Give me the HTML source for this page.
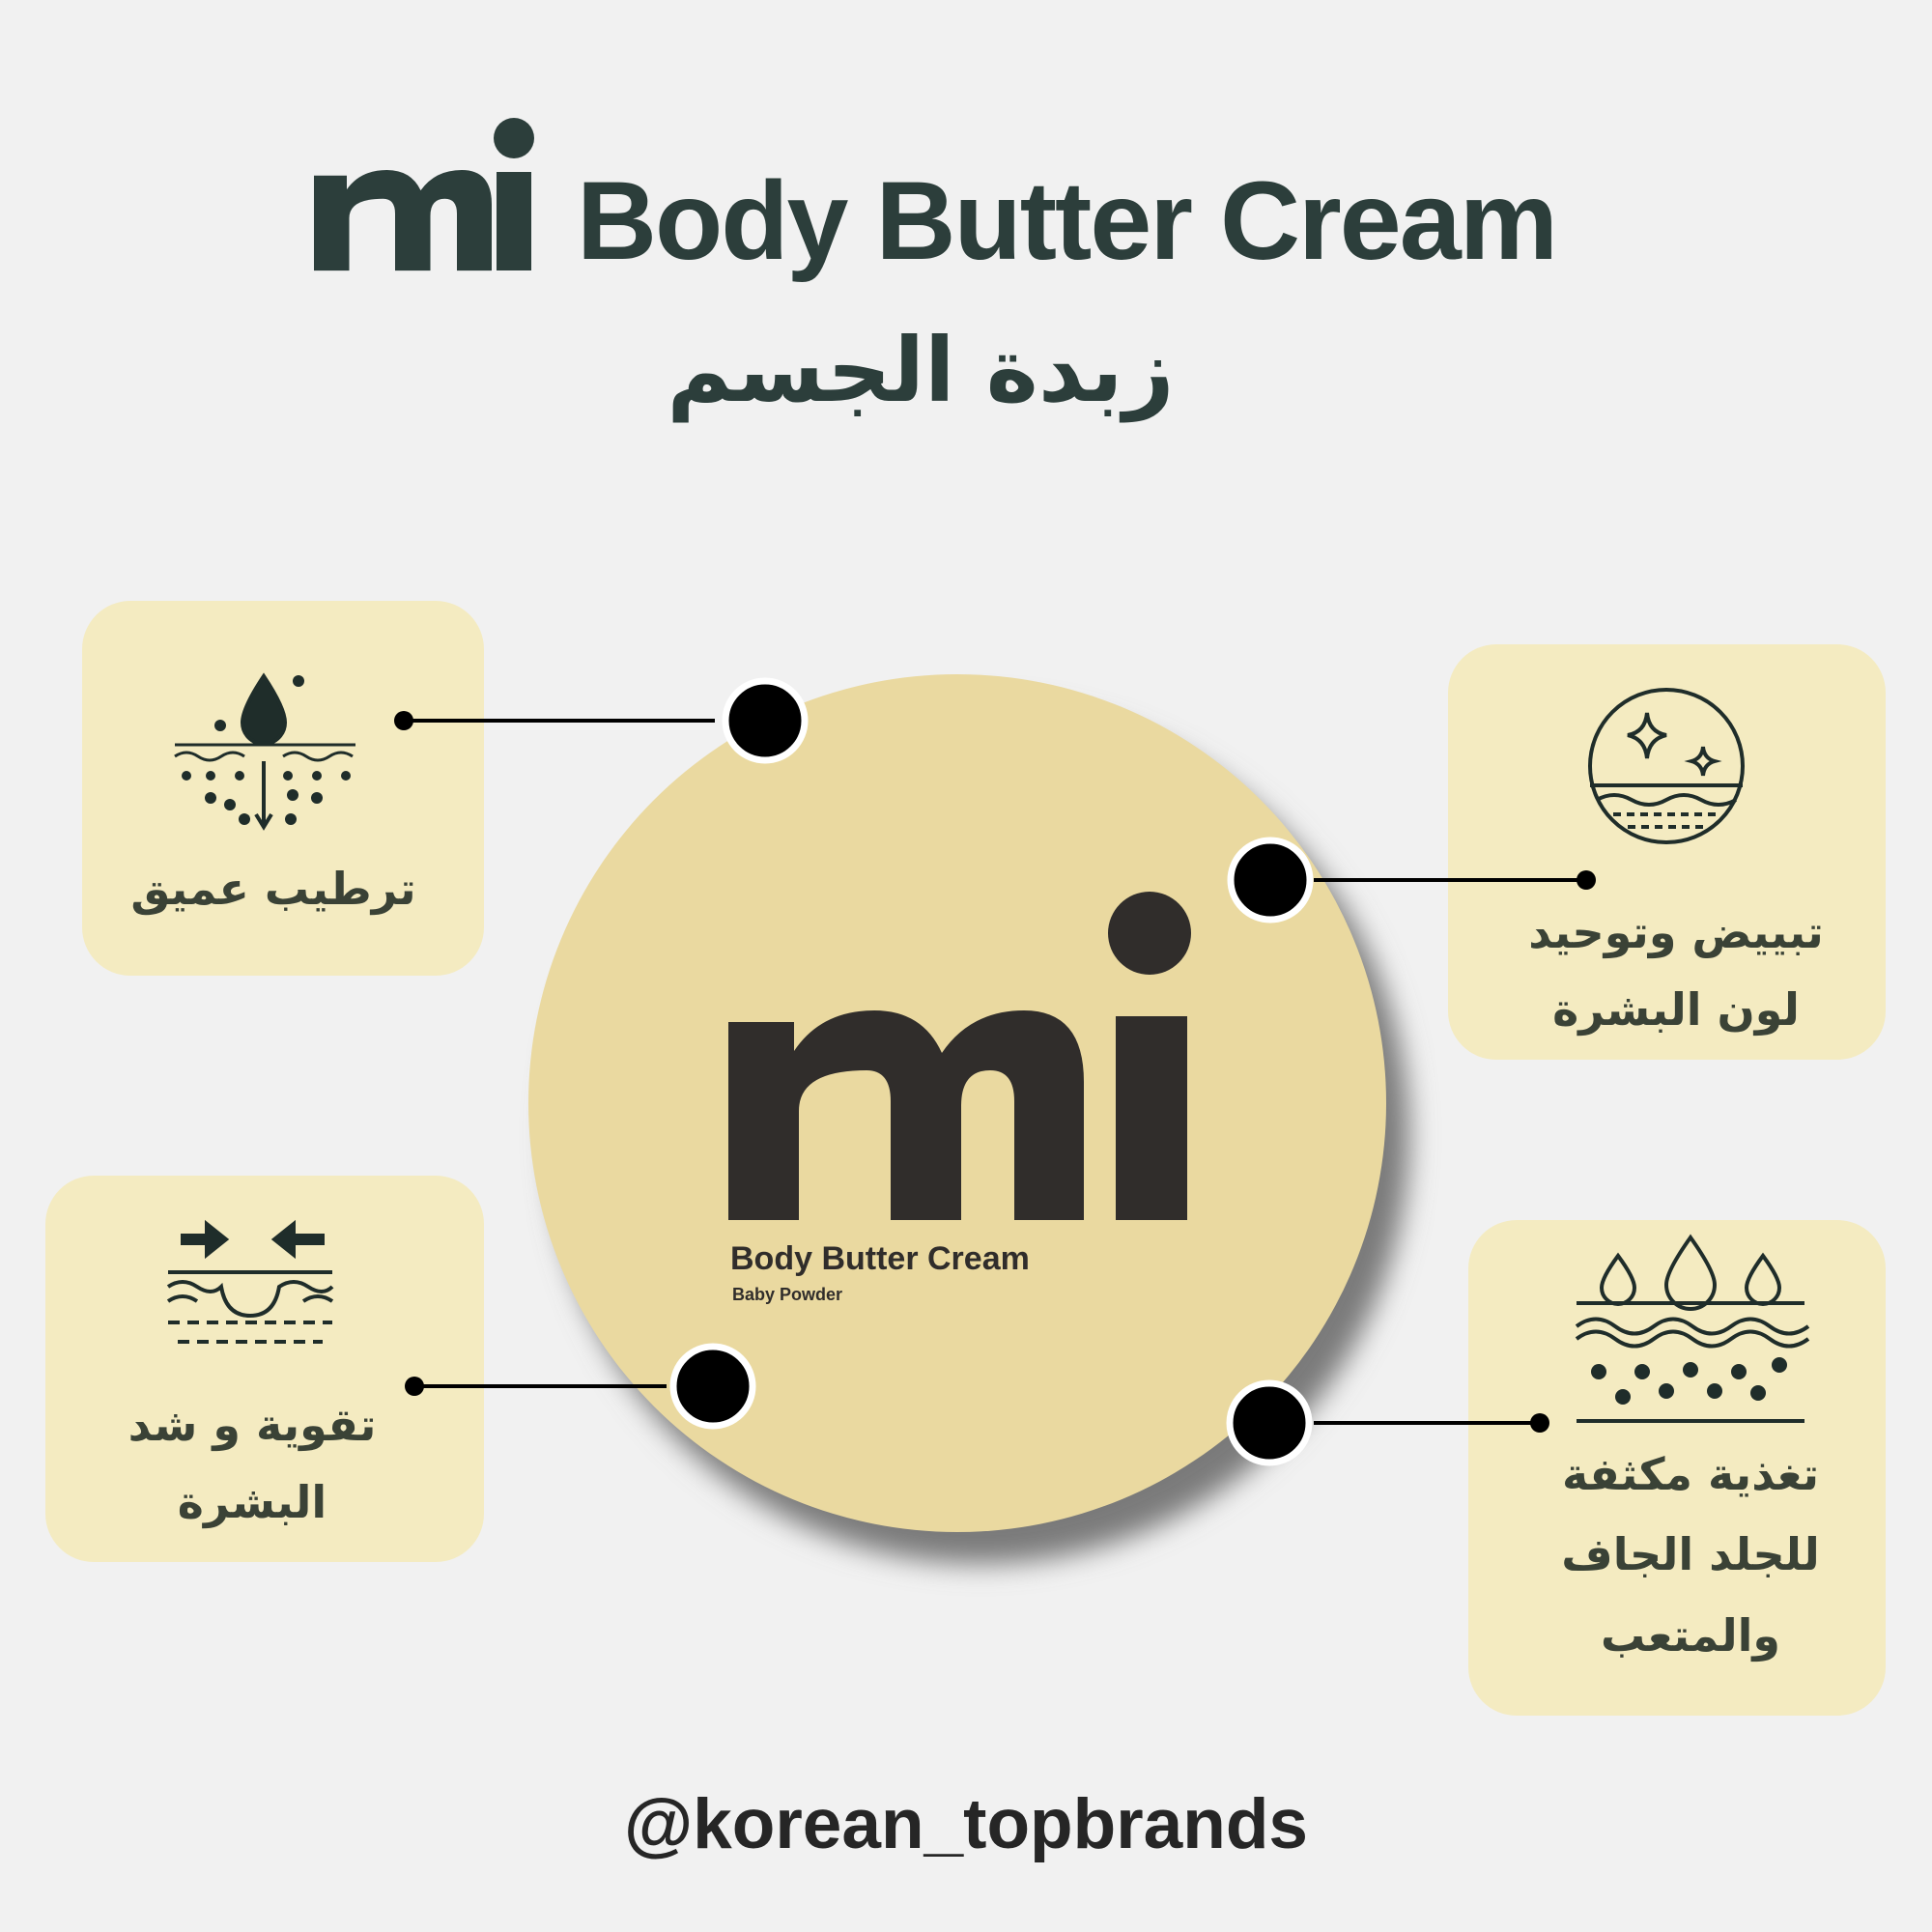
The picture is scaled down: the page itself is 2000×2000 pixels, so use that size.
<!DOCTYPE html>
<html><head><meta charset="utf-8">
<style>
html,body{margin:0;padding:0}
body{width:2000px;height:2000px;background:#f1f1f1;position:relative;overflow:hidden;font-family:"Liberation Sans","Noto Sans CJK SC",sans-serif;color:#2c3e3b}
.abs{position:absolute}
.box{position:absolute;background:#f4ebc1;border-radius:50px}
.ar{position:absolute;font-weight:bold;text-align:center;white-space:nowrap;font-family:"DejaVu Sans","Noto Sans CJK SC",sans-serif;direction:rtl}
.lbl{font-size:46px;color:#3a4236;transform:translateX(-50%)}
</style></head><body>

<div class="abs" style="left:597px;top:172px;font-size:115px;font-weight:bold;line-height:1;letter-spacing:-2px;white-space:nowrap">Body Butter Cream</div>
<div class="ar" style="left:953px;top:330px;font-size:92px;transform:translateX(-50%)">زبدة الجسم</div>

<div class="box" style="left:85px;top:622px;width:416px;height:388px"></div>
<div class="box" style="left:1499px;top:667px;width:453px;height:430px"></div>
<div class="box" style="left:47px;top:1217px;width:454px;height:400px"></div>
<div class="box" style="left:1520px;top:1263px;width:432px;height:513px"></div>

<svg class="abs" style="left:0;top:0" width="2000" height="2000">
  <defs><filter id="sh" x="-20%" y="-20%" width="150%" height="150%"><feGaussianBlur stdDeviation="14"/></filter>
  <path id="mm" d="M754 1058 H822 V1088 Q850 1046 905 1046 Q955 1046 975 1090 Q1005 1046 1060 1046 Q1122 1046 1122 1120 V1263 H1050 V1140 Q1050 1108 1025 1108 Q995 1108 995 1145 V1263 H922 V1140 Q922 1108 897 1108 Q827 1108 827 1150 V1263 H754 Z"/></defs>
  <!-- title mi -->
  <g fill="#2c3e3b">
    <use href="#mm" transform="translate(325,176) scale(0.5,0.48) translate(-754,-1046)"/>
    <rect x="514" y="178" width="36" height="102"/>
    <circle cx="532" cy="143" r="21"/>
  </g>
  <circle cx="1015" cy="1175" r="444" fill="#7a7a7a" filter="url(#sh)"/>
  <circle cx="991" cy="1142" r="444" fill="#ead9a0"/>
  <use href="#mm" fill="#302d2b"/>
  <rect x="1155" y="1052" width="74" height="211" fill="#302d2b"/>
  <circle cx="1190" cy="966" r="43" fill="#302d2b"/>
  <text x="756" y="1314" font-size="34" font-weight="bold" fill="#302d2b" font-family="Liberation Sans">Body Butter Cream</text>
  <text x="758" y="1346" font-size="18" font-weight="bold" fill="#302d2b" font-family="Liberation Sans">Baby Powder</text>

  <g stroke="#000" stroke-width="4">
    <line x1="418" y1="746" x2="740" y2="746"/>
    <line x1="1360" y1="911" x2="1642" y2="911"/>
    <line x1="429" y1="1435" x2="690" y2="1435"/>
    <line x1="1360" y1="1473" x2="1594" y2="1473"/>
  </g>
  <g fill="#000">
    <circle cx="418" cy="746" r="10"/><circle cx="1642" cy="911" r="10"/>
    <circle cx="429" cy="1435" r="10"/><circle cx="1594" cy="1473" r="10"/>
  </g>
  <g fill="#000" stroke="#fff" stroke-width="7">
    <circle cx="792" cy="746" r="41"/><circle cx="1315" cy="911" r="41"/>
    <circle cx="738" cy="1435" r="41"/><circle cx="1314" cy="1473" r="41"/>
  </g>

  <g transform="translate(273,778)" stroke="#1f2d2a" stroke-width="4" fill="#1f2d2a">
    <path d="M0 -78 Q-22 -45 -22 -30 A22 22 0 0 0 22 -30 Q22 -45 0 -78Z"/>
    <line x1="-92" y1="-7" x2="95" y2="-7" stroke-width="3"/>
    <path d="M-92 5 q12 -8 24 0 t24 0 t24 0 M20 5 q12 -8 24 0 t24 0 t24 0" fill="none" stroke-width="3"/>
    <line x1="0" y1="10" x2="0" y2="75"/><path d="M-8 65 L0 78 L8 65" fill="none"/>
    <g stroke="none">
      <circle cx="-80" cy="25" r="5"/><circle cx="-55" cy="25" r="5"/><circle cx="-25" cy="25" r="5"/><circle cx="25" cy="25" r="5"/><circle cx="55" cy="25" r="5"/><circle cx="85" cy="25" r="5"/>
      <circle cx="-55" cy="48" r="6"/><circle cx="-35" cy="55" r="6"/><circle cx="-20" cy="70" r="6"/><circle cx="28" cy="70" r="6"/><circle cx="55" cy="48" r="6"/><circle cx="30" cy="45" r="6"/>
      <circle cx="-45" cy="-27" r="6"/><circle cx="36" cy="-73" r="6"/>
    </g>
  </g>
  <g transform="translate(1725,793)" stroke="#1f2d2a" stroke-width="4" fill="none">
    <circle r="79"/>
    <path d="M-20 -55 Q-18 -35 0 -32 Q-18 -28 -20 -8 Q-22 -28 -40 -32 Q-22 -35 -20 -55Z"/>
    <path d="M38 -20 Q39 -8 50 -5 Q39 -2 38 10 Q37 -2 26 -5 Q37 -8 38 -20Z"/>
    <line x1="-79" y1="20" x2="79" y2="20"/>
    <path d="M-72 35 q18 -10 36 0 t36 0 t36 0 t36 0"/>
    <path d="M-55 50 H55 M-40 63 H40" stroke-dasharray="8 6"/>
  </g>
  <g transform="translate(259,1327)" stroke="#1f2d2a" stroke-width="4" fill="#1f2d2a">
    <path d="M-70 -48 H-45 V-60 L-25 -44 L-45 -28 V-40 H-70Z"/>
    <path d="M75 -48 H45 V-60 L25 -44 L45 -28 V-40 H75Z"/>
    <line x1="-85" y1="-10" x2="85" y2="-10" fill="none"/>
    <path d="M-85 5 q15 -10 30 0 t25 0 q5 30 30 30 q25 0 30 -30 q15 -10 30 0 t25 0" fill="none"/>
    <path d="M-85 20 q15 -10 30 0 M55 20 q15 -10 30 0" fill="none"/>
    <path d="M-85 42 H85 M-75 62 H75" stroke-dasharray="12 8" fill="none"/>
  </g>
  <g transform="translate(1750,1378)" stroke="#1f2d2a" stroke-width="4" fill="none">
    <path d="M0 -97 Q-25 -62 -25 -48 A25 25 0 0 0 25 -48 Q25 -62 0 -97Z"/>
    <path d="M-75 -78 Q-92 -55 -92 -45 A17 17 0 0 0 -58 -45 Q-58 -55 -75 -78Z"/>
    <path d="M75 -78 Q58 -55 58 -45 A17 17 0 0 0 92 -45 Q92 -55 75 -78Z"/>
    <line x1="-118" y1="-29" x2="118" y2="-29"/>
    <path d="M-118 -5 q20 -15 40 0 t40 0 t40 0 t40 0 t40 0 t40 0"/>
    <path d="M-118 8 q20 -15 40 0 t40 0 t40 0 t40 0 t40 0 t40 0"/>
    <line x1="-118" y1="93" x2="118" y2="93"/>
    <g fill="#1f2d2a" stroke="none">
      <circle cx="-95" cy="42" r="8"/><circle cx="-50" cy="42" r="8"/><circle cx="0" cy="40" r="8"/><circle cx="50" cy="42" r="8"/><circle cx="92" cy="35" r="8"/>
      <circle cx="-70" cy="68" r="8"/><circle cx="-25" cy="62" r="8"/><circle cx="25" cy="62" r="8"/><circle cx="70" cy="64" r="8"/>
    </g>
  </g>
</svg>

<div class="ar lbl" style="left:283px;top:893px">ترطيب عميق</div>
<div class="ar lbl" style="left:1735px;top:938px">تبييض وتوحيد</div>
<div class="ar lbl" style="left:1735px;top:1018px">لون البشرة</div>
<div class="ar lbl" style="left:261px;top:1448px">تقوية و شد</div>
<div class="ar lbl" style="left:261px;top:1528px">البشرة</div>
<div class="ar lbl" style="left:1750px;top:1499px">تغذية مكثفة</div>
<div class="ar lbl" style="left:1750px;top:1582px">للجلد الجاف</div>
<div class="ar lbl" style="left:1750px;top:1666px">والمتعب</div>

<div class="abs" style="left:0;width:2000px;top:1852px;text-align:center;font-size:73px;font-weight:bold;color:#262626;line-height:1">@korean_topbrands</div>
</body></html>
